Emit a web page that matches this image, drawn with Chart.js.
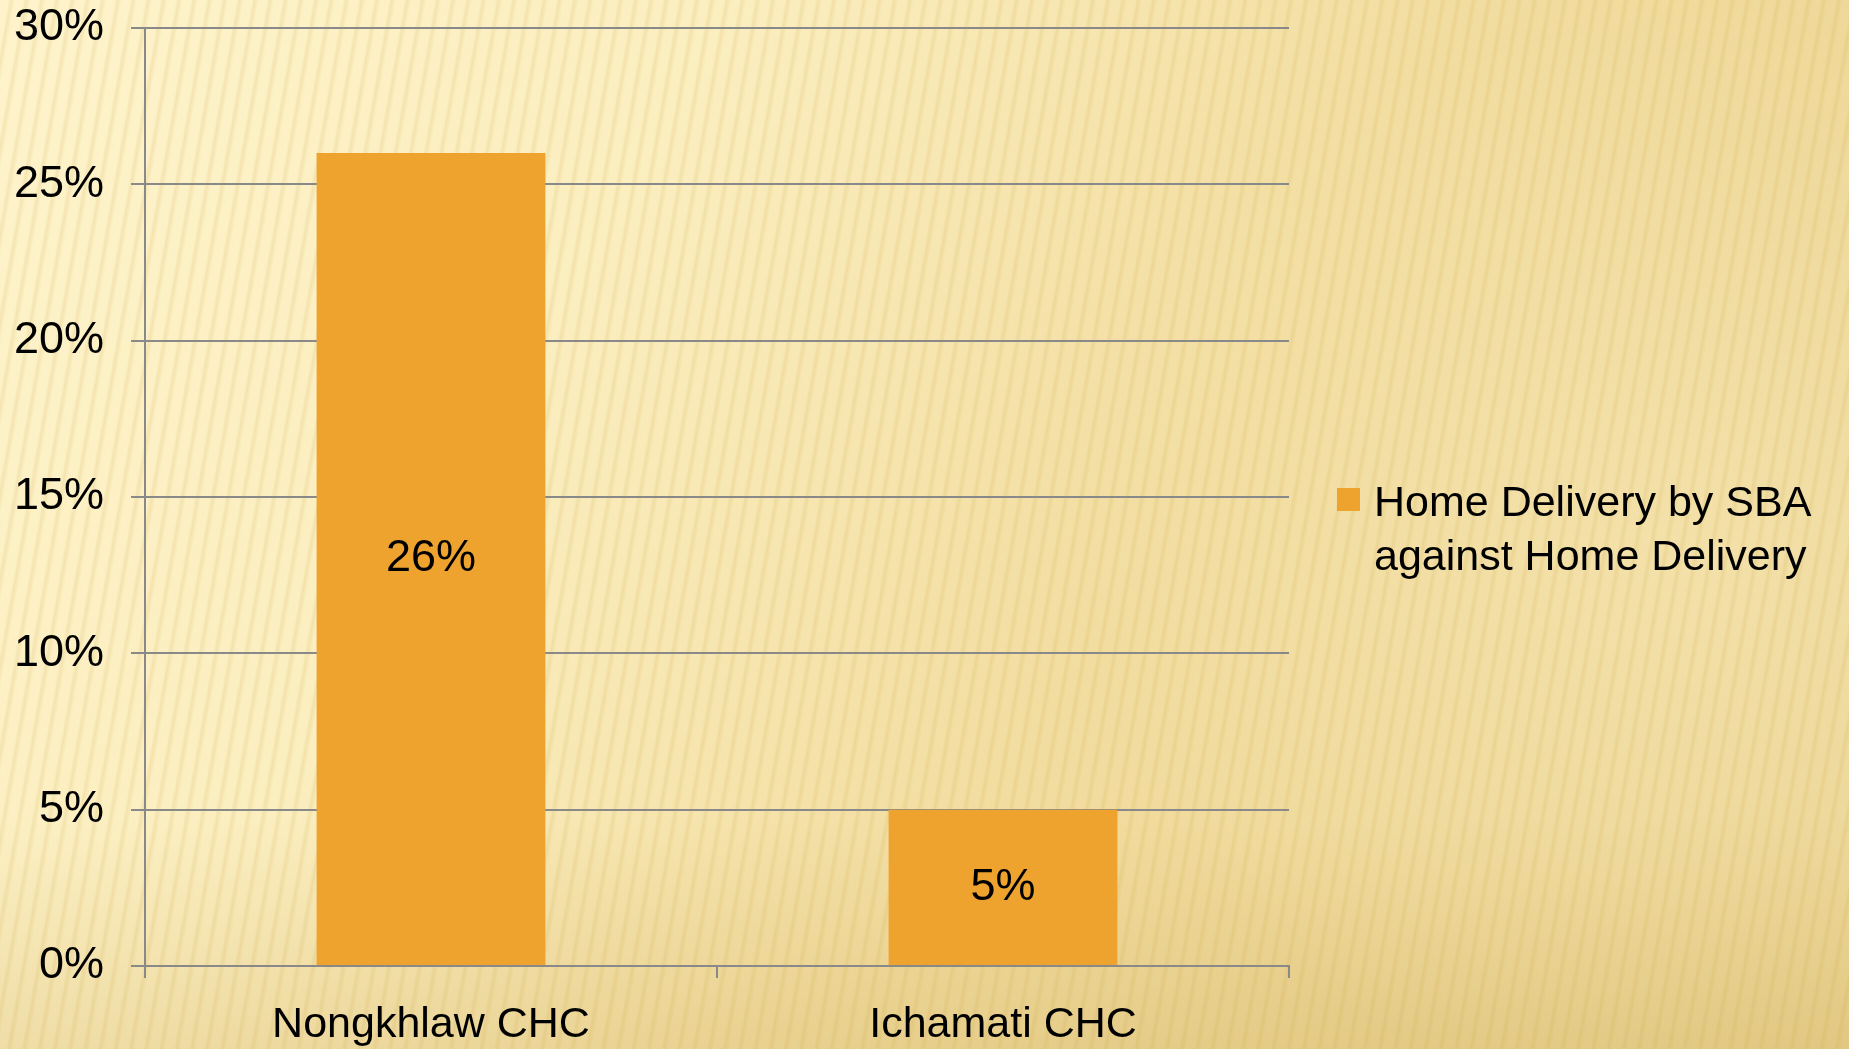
<!DOCTYPE html>
<html>
<head>
<meta charset="utf-8">
<script src="https://cdn.jsdelivr.net/npm/chart.js@4/dist/chart.umd.min.js"></script>
<style>
  html, body { margin: 0; padding: 0; width: 1849px; height: 1049px; overflow: hidden; }
  body {
    position: relative;
    background:
      repeating-linear-gradient(100deg, rgba(200,160,60,0.00) 0px, rgba(200,160,60,0.00) 8px, rgba(200,160,60,0.16) 11px, rgba(200,160,60,0.00) 15px),
      radial-gradient(ellipse 620px 560px at 1700px 560px, rgba(255,245,205,0.35), rgba(255,245,205,0) 100%),
      linear-gradient(180deg, rgba(0,0,0,0) 0%, rgba(0,0,0,0) 78%, rgba(190,150,60,0.20) 100%),
      linear-gradient(120deg, #fef3cb 0%, #fbeebf 30%, #f2dda0 60%, #e9d18f 100%);
  }
  #wrap { position: absolute; left: 0; top: 0; width: 1849px; height: 1049px; }
  #legend {
    position: absolute; left: 1337px; top: 474px;
    font-family: "Liberation Sans", Arial, sans-serif; font-size: 43px; line-height: 54px; color: #000;
  }
  #legend .box { position: absolute; left: 0; top: 14px; width: 23px; height: 23px; background: #EFA32F; }
  #legend .txt { margin-left: 37px; white-space: nowrap; }
</style>
</head>
<body>
<div id="wrap"><canvas id="c" width="1849" height="1049"></canvas></div>
<div id="legend"><div class="box"></div><div class="txt" id="legtxt"></div></div>
<script>
const categories = ["Nongkhlaw CHC", "Ichamati CHC"];
const seriesName = ["Home Delivery by SBA", "against Home Delivery"];
const values = [26, 5];
const yTicks = [0, 5, 10, 15, 20, 25, 30];

document.getElementById('legtxt').innerHTML = seriesName.join('<br>');

const FONT = '"Liberation Sans", Arial, sans-serif';
const valueLabels = {
  id: 'valueLabels',
  afterDatasetsDraw(chart) {
    const ctx = chart.ctx;
    const meta = chart.getDatasetMeta(0);
    ctx.save();
    ctx.font = '45px ' + FONT;
    ctx.fillStyle = '#000';
    ctx.textAlign = 'center';
    ctx.textBaseline = 'middle';
    meta.data.forEach((bar, i) => {
      const v = chart.data.datasets[0].data[i];
      const yc = (bar.y + bar.base) / 2;
      ctx.fillText(v + '%', bar.x, yc);
    });
    ctx.restore();
  }
};

new Chart(document.getElementById('c'), {
  type: 'bar',
  data: {
    labels: categories,
    datasets: [{
      label: seriesName.join(' '),
      data: values,
      backgroundColor: '#EFA32F',
      borderWidth: 0,
      barPercentage: 0.4,
      categoryPercentage: 1.0
    }]
  },
  options: {
    responsive: false,
    animation: false,
    devicePixelRatio: 1,
    layout: { padding: { left: 0, right: 560, top: 28, bottom: 0 } },
    plugins: { legend: { display: false }, tooltip: { enabled: false } },
    scales: {
      x: {
        offset: true,
        grid: { display: true, drawOnChartArea: false, drawTicks: true, tickLength: 12, color: '#898989', lineWidth: 2, offset: true },
        border: { display: true, color: '#898989', width: 2 },
        ticks: { color: '#000', font: { family: FONT, size: 43 }, padding: 21, maxRotation: 0 },
        afterFit(scale) { scale.height = 83; }
      },
      y: {
        min: 0, max: 30,
        afterBuildTicks(scale) { scale.ticks = yTicks.map(v => ({ value: v })); },
        grid: { color: '#898989', lineWidth: 2, drawTicks: true, tickLength: 14 },
        border: { display: true, color: '#898989', width: 2 },
        ticks: { color: '#000', font: { family: FONT, size: 45 }, padding: 27, callback: v => v + '%' },
        afterFit(scale) { scale.width = 145; scale.paddingTop = 0; }
      }
    }
  },
  plugins: [valueLabels]
});
</script>
</body>
</html>
